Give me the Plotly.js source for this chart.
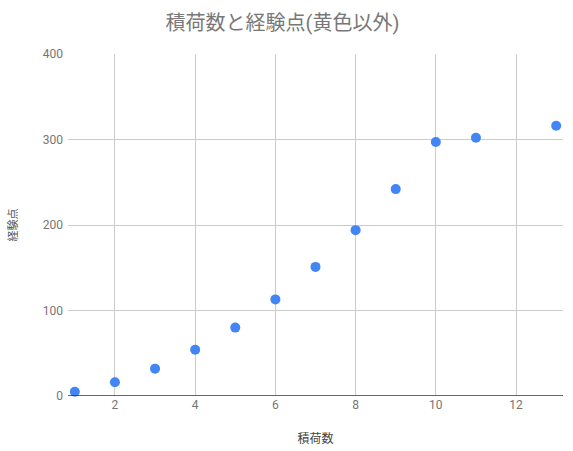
<!DOCTYPE html>
<html>
<head>
<meta charset="utf-8">
<script src="https://cdn.plot.ly/plotly-3.0.1.min.js"></script>
<style>
  html, body { margin: 0; padding: 0; background: #ffffff; }
  #chart { width: 573px; height: 451px; }
</style>
</head>
<body>
<div id="chart"></div>
<script>
var cargoCount = [1, 2, 3, 4, 5, 6, 7, 8, 9, 10, 11, 13];
var expPoints = [5, 16, 32, 54, 80, 113, 151, 194, 242, 297, 302, 316];

var cjk = 'Roboto, "Noto Sans CJK JP", sans-serif';

var trace = {
  x: cargoCount,
  y: expPoints,
  mode: 'markers',
  type: 'scatter',
  name: '経験点',
  marker: {
    size: 10,
    color: '#4285f4'
  },
  cliponaxis: false
};

var layout = {
  width: 573,
  height: 451,
  margin: { l: 68, r: 10, t: 54, b: 55 },
  paper_bgcolor: '#ffffff',
  plot_bgcolor: '#ffffff',
  showlegend: false,
  title: {
    text: '積荷数と経験点(黄色以外)',
    x: 0.493,
    xanchor: 'center',
    y: 0.95,
    yanchor: 'middle',
    font: { family: cjk, size: 20, color: '#787878' }
  },
  xaxis: {
    range: [0.83, 13.17],
    tickvals: [2, 4, 6, 8, 10, 12],
    showgrid: true,
    gridcolor: '#cccccc',
    zeroline: false,
    showline: false,
    ticks: '',
    tickfont: { family: 'Roboto, sans-serif', size: 12, color: '#757575' },
    title: {
      text: '積荷数',
      standoff: 23,
      font: { family: cjk, size: 12, color: '#444444' }
    }
  },
  yaxis: {
    range: [0, 400],
    tickvals: [0, 100, 200, 300, 400],
    showgrid: true,
    gridcolor: '#cccccc',
    zeroline: false,
    showline: false,
    ticks: '',
    ticklabelstandoff: 4,
    tickfont: { family: 'Roboto, sans-serif', size: 12, color: '#757575' },
    title: {
      text: '経験点',
      standoff: 22,
      font: { family: cjk, size: 11, color: '#555555' }
    }
  },
  shapes: [{
    type: 'line', xref: 'paper', yref: 'y',
    x0: 0, x1: 1, y0: 0, y1: 0,
    line: { color: '#333333', width: 1.5 }
  }]
};

Plotly.newPlot('chart', [trace], layout, { displayModeBar: false, staticPlot: true });
</script>
</body>
</html>
